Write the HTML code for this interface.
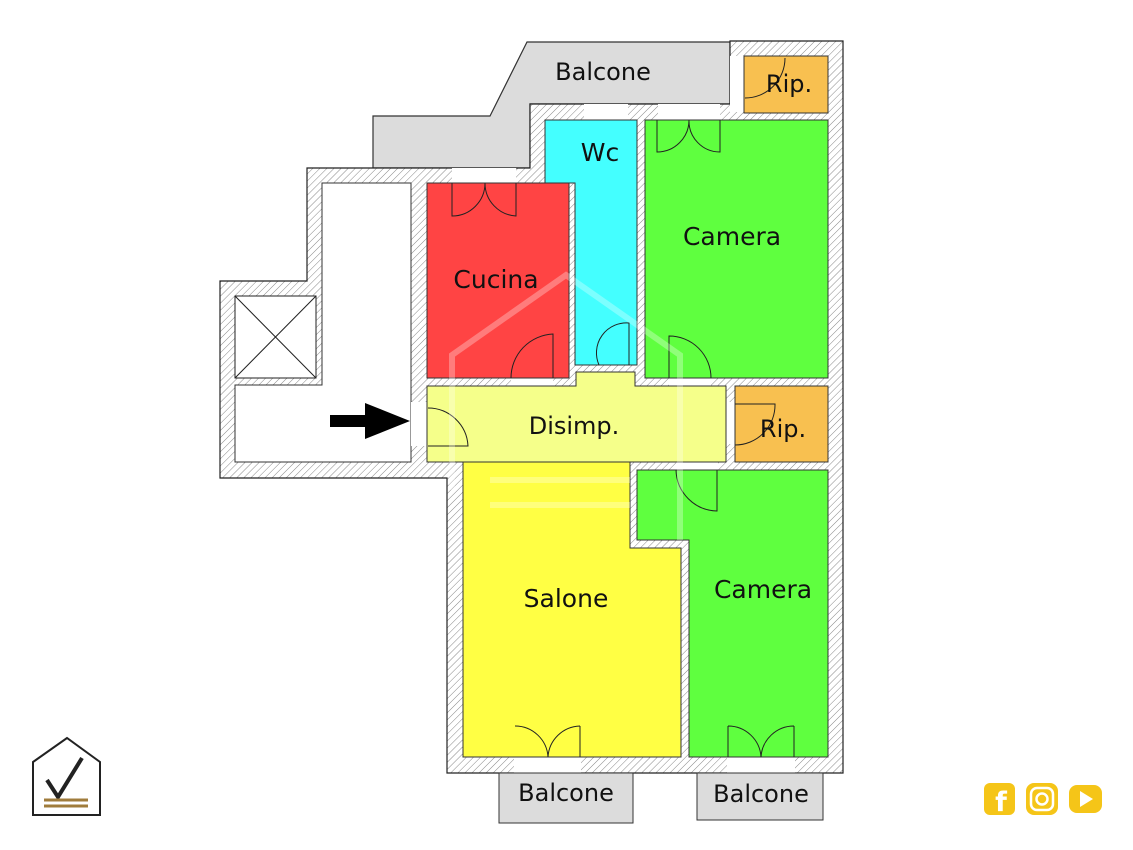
<!DOCTYPE html>
<html><head><meta charset="utf-8"><style>
html,body{margin:0;padding:0;background:#fff;width:1133px;height:850px;overflow:hidden}
svg{display:block}
text{font-family:"DejaVu Sans","Liberation Sans",sans-serif;fill:#111}
</style></head><body>
<svg width="1133" height="850" viewBox="0 0 1133 850" xmlns="http://www.w3.org/2000/svg">
<defs>
<pattern id="h" width="5" height="5" patternUnits="userSpaceOnUse" patternTransform="rotate(45)">
<rect width="5" height="5" fill="#fff"/><line x1="0" y1="0" x2="0" y2="5" stroke="#888" stroke-width="1"/>
</pattern>
</defs>
<polygon points="527,42 730,42 730,104 530,104 530,168 373,168 373,116 490,116" fill="#dcdcdc" stroke="#333" stroke-width="1.2"/>
<text x="603" y="80" font-size="24" text-anchor="middle">Balcone</text>
<polygon points="730,41 843,41 843,773 447,773 447,478 220,478 220,281 307,281 307,168 530,168 530,104 730,104" fill="url(#h)" stroke="#222" stroke-width="1.2"/>
<polygon points="322,183 411,183 411,462 235,462 235,385 322,385" fill="#fff" stroke="#333" stroke-width="1"/>
<rect x="235" y="296" width="81" height="82" fill="#fff" stroke="#222"/>
<line x1="235" y1="296" x2="316" y2="378" stroke="#222"/><line x1="316" y1="296" x2="235" y2="378" stroke="#222"/>
<rect x="411" y="402" width="16" height="44" fill="#fff"/>
<rect x="452" y="168" width="64" height="15" fill="#fff"/>
<rect x="584" y="104" width="44" height="16" fill="#fff"/>
<rect x="658" y="104" width="62" height="16" fill="#fff"/>
<rect x="730" y="56" width="14" height="56" fill="#fff"/>
<rect x="511" y="378" width="42" height="8" fill="#fff"/>
<rect x="669" y="378" width="42" height="8" fill="#fff"/>
<rect x="726" y="402" width="9" height="42" fill="#fff"/>
<rect x="676" y="462" width="42" height="8" fill="#fff"/>
<rect x="514" y="757" width="67" height="16" fill="#fff"/>
<rect x="727" y="757" width="68" height="16" fill="#fff"/>
<rect x="427" y="183" width="142" height="195" fill="#ff4444" stroke="#333"/>
<polygon points="545,120 637,120 637,365 575,365 575,183 545,183" fill="#44ffff" stroke="#333"/>
<rect x="645" y="120" width="183" height="258" fill="#5fff3f" stroke="#333"/>
<rect x="744" y="56" width="84" height="57" fill="#f8c050" stroke="#333"/>
<polygon points="427,386 576,386 576,372 635,372 635,386 726,386 726,462 427,462" fill="#f5ff8a" stroke="#333"/>
<rect x="735" y="386" width="93" height="76" fill="#f8c050" stroke="#333"/>
<polygon points="463,462 630,462 630,548 681,548 681,757 463,757" fill="#ffff44" stroke="#333"/>
<polygon points="637,470 828,470 828,757 689,757 689,540 637,540" fill="#5fff3f" stroke="#333"/>
<rect x="499" y="773" width="134" height="50" fill="#dcdcdc" stroke="#333"/>
<rect x="697" y="773" width="126" height="47" fill="#dcdcdc" stroke="#333"/>
<g fill="none" stroke="#222" stroke-width="1">
<path d="M452,183 V216 A33,33 0 0 0 485,183 M516,183 V216 A33,33 0 0 1 485,183"/>
<path d="M657,120 V152 A32,32 0 0 0 689,120 M720,120 V152 A31,31 0 0 1 689,120"/>
<path d="M745,98 A40,40 0 0 0 785,58"/>
<path d="M553,378 V334 A44,44 0 0 0 511,378"/>
<path d="M629,365 V323 A30,30 0 0 0 599,365 L599,365"/>
<path d="M669,378 V336 A42,42 0 0 1 711,378"/>
<path d="M428,408 A40,40 0 0 1 468,446 H428"/>
<path d="M735,445 A40,40 0 0 0 775,404 H735"/>
<path d="M676,470 A42,42 0 0 0 717,511 V470"/>
<path d="M515,726 A33,33 0 0 1 548,757 M580,726 V757 M580,726 A33,33 0 0 0 548,757"/>
<path d="M728,726 V757 M728,726 A33,33 0 0 1 761,757 M794,726 V757 M794,726 A33,33 0 0 0 761,757"/>
</g>
<g fill="none" stroke="#fff" stroke-opacity="0.3" stroke-width="6">
<polyline points="452,490 452,355 566,275 680,355 680,540"/>
<line x1="490" y1="480" x2="630" y2="480"/>
<line x1="490" y1="505" x2="630" y2="505"/>
</g>
<polygon points="330,415 365,415 365,403 410,421 365,439 365,427 330,427" fill="#000"/>
<text x="496" y="288" font-size="25" text-anchor="middle">Cucina</text>
<text x="600" y="161" font-size="25" text-anchor="middle">Wc</text>
<text x="732" y="245" font-size="25" text-anchor="middle">Camera</text>
<text x="789" y="92" font-size="24" text-anchor="middle">Rip.</text>
<text x="574" y="434" font-size="24" text-anchor="middle">Disimp.</text>
<text x="783" y="437" font-size="24" text-anchor="middle">Rip.</text>
<text x="566" y="607" font-size="25" text-anchor="middle">Salone</text>
<text x="763" y="598" font-size="25" text-anchor="middle">Camera</text>
<text x="566" y="801" font-size="24" text-anchor="middle">Balcone</text>
<text x="761" y="802" font-size="24" text-anchor="middle">Balcone</text>
<polygon points="33,762 67,738 100,762 100,815 33,815" fill="#fff" stroke="#222" stroke-width="2"/>
<path d="M47,780 L58,797 L82,758" fill="none" stroke="#222" stroke-width="4"/>
<line x1="44" y1="800" x2="88" y2="800" stroke="#a07c3c" stroke-width="3"/>
<line x1="44" y1="806" x2="88" y2="806" stroke="#a07c3c" stroke-width="3"/>
<rect x="984" y="783" width="31" height="32" rx="6" fill="#f5c518"/>
<text x="1001" y="811" font-size="27" font-weight="bold" text-anchor="middle" style="fill:#fff">f</text>
<rect x="1026" y="783" width="32" height="32" rx="8" fill="#f5c518"/>
<rect x="1031" y="788" width="22" height="22" rx="6" fill="none" stroke="#fff" stroke-width="2.5"/>
<circle cx="1042" cy="799" r="5.5" fill="none" stroke="#fff" stroke-width="2.5"/>
<rect x="1069" y="785" width="33" height="28" rx="8" fill="#f5c518"/>
<polygon points="1080,791 1093,799 1080,807" fill="#fff"/>
</svg>
</body></html>
